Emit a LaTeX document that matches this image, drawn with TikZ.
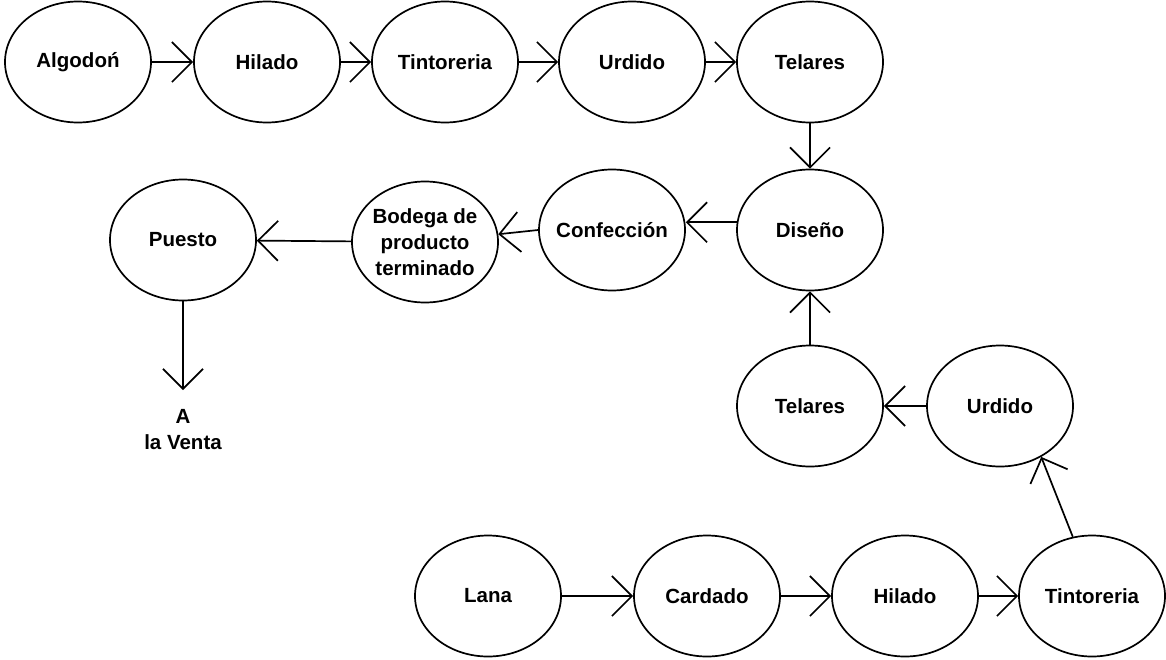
\documentclass[tikz,border=0pt]{standalone}
\usepackage{fontspec}
\setmainfont{Liberation Sans}
\usetikzlibrary{shapes.geometric,arrows.meta}
\tikzset{
  proc/.style={ellipse, draw, line width=1.7pt, minimum width=146pt, minimum height=121pt,
    inner sep=0pt, inner xsep=-12pt, align=center, font=\bfseries\fontsize{20.5}{26}\selectfont},
  flow/.style={line width=1.7pt, -{Straight Barb[length=20pt,width=40pt,line width=1.7pt]}},
  lbl/.style={align=center, inner sep=0pt, font=\bfseries\fontsize{20.5}{26}\selectfont}
}
\begin{document}
\begin{tikzpicture}[x=1pt,y=-1pt]
\useasboundingbox (0,0) rectangle (1166,659);
% top row
\node[proc] (algodon) at (78,62) {Algodoń};
\node[proc] (hilado1) at (267,62) {Hilado};
\node[proc] (tint1) at (445,62) {Tintoreria};
\node[proc] (urdido1) at (632,62) {Urdido};
\node[proc] (telares1) at (810,62) {Telares};
% middle row
\node[proc] (diseno) at (810,230) {Diseño};
\node[proc] (confeccion) at (612,230) {Confección};
\node[proc] (bodega) at (425,242) {Bodega de\\producto\\terminado};
\node[proc] (puesto) at (183,240) {Puesto};
% lower right
\node[proc] (telares2) at (810,406) {Telares};
\node[proc] (urdido2) at (1000,406) {Urdido};
% bottom row
\node[proc] (lana) at (488,596) {Lana};
\node[proc] (cardado) at (707,596) {Cardado};
\node[proc] (hilado2) at (905,596) {Hilado};
\node[proc] (tint2) at (1092,596) {Tintoreria};
% output text
\coordinate (venta) at (183,390);
\node[lbl] (ventatxt) at (183,430) {A\\la Venta};
% connectors
\draw[flow] (algodon) -- (hilado1);
\draw[flow] (hilado1) -- (tint1);
\draw[flow] (tint1) -- (urdido1);
\draw[flow] (urdido1) -- (telares1);
\draw[flow] (telares1) -- (diseno);
\draw[flow] (diseno.174) -- (confeccion.east |- diseno.174);
\draw[flow] (confeccion.west) -- (bodega);
\draw[flow] (bodega) -- (puesto);
\draw[flow] (puesto) -- (venta);
\draw[flow] (lana) -- (cardado);
\draw[flow] (cardado) -- (hilado2);
\draw[flow] (hilado2) -- (tint2);
\draw[flow] (tint2.108) -- (urdido2.309);
\draw[flow] (urdido2) -- (telares2);
\draw[flow] (telares2) -- (diseno);
\end{tikzpicture}
\end{document}
